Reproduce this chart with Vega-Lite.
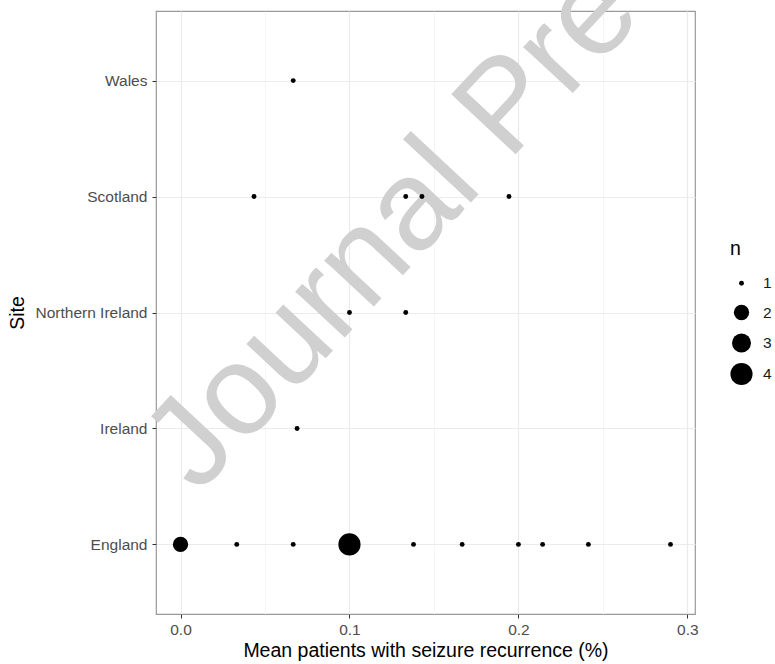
{
  "$schema": "https://vega.github.io/schema/vega-lite/v6.json",
  "width": 539,
  "height": 603,
  "autosize": {"type": "none"},
  "padding": {"left": 156, "top": 11, "right": 80, "bottom": 50},
  "background": "white",
  "config": {
    "font": "Liberation Sans",
    "view": {"stroke": "#999999", "strokeWidth": 1.2},
    "axis": {
      "domain": false,
      "grid": true,
      "labelFontSize": 15.5,
      "labelColor": "#4d4d4d",
      "titleFontSize": 19.5,
      "titleFontWeight": "normal",
      "titleColor": "black",
      "tickColor": "#333333",
      "tickSize": 4,
      "gridColor": "#ebebeb",
      "gridWidth": 1.2
    }
  },
  "layer": [
    {
      "data": {"values": [{"wx": 0.0779, "wy": 0.1973, "label": "Journal Pre-proof"}]},
      "mark": {"type": "text", "align": "left", "baseline": "alphabetic", "angle": 313, "fontSize": 128, "font": "Liberation Sans", "color": "#d0d0d0"},
      "encoding": {
        "x": {"field": "wx", "type": "quantitative", "scale": {"domain": [0, 1], "nice": false, "zero": false}, "axis": null},
        "y": {"field": "wy", "type": "quantitative", "scale": {"domain": [0, 1], "nice": false, "zero": false}, "axis": null},
        "text": {"field": "label"}
      }
    },
    {
      "data": {"values": [
        {"site": "England", "rate": 0.0, "n": 2},
        {"site": "England", "rate": 0.0333, "n": 1},
        {"site": "England", "rate": 0.0667, "n": 1},
        {"site": "England", "rate": 0.1, "n": 4},
        {"site": "England", "rate": 0.1379, "n": 1},
        {"site": "England", "rate": 0.1667, "n": 1},
        {"site": "England", "rate": 0.2, "n": 1},
        {"site": "England", "rate": 0.2143, "n": 1},
        {"site": "England", "rate": 0.2414, "n": 1},
        {"site": "England", "rate": 0.29, "n": 1},
        {"site": "Ireland", "rate": 0.069, "n": 1},
        {"site": "Northern Ireland", "rate": 0.1, "n": 1},
        {"site": "Northern Ireland", "rate": 0.1333, "n": 1},
        {"site": "Scotland", "rate": 0.0435, "n": 1},
        {"site": "Scotland", "rate": 0.1333, "n": 1},
        {"site": "Scotland", "rate": 0.1429, "n": 1},
        {"site": "Scotland", "rate": 0.1944, "n": 1},
        {"site": "Wales", "rate": 0.0667, "n": 1}
      ]},
      "mark": {"type": "point", "filled": true, "color": "black", "opacity": 1, "shape": "circle", "strokeWidth": 0},
      "encoding": {
        "x": {
          "field": "rate", "type": "quantitative",
          "scale": {"domain": [-0.0145, 0.3045], "nice": false, "zero": false},
          "axis": {
            "title": "Mean patients with seizure recurrence (%)",
            "grid": true,
            "values": [0, 0.05, 0.1, 0.15, 0.2, 0.25, 0.3],
            "format": ".1f",
            "labelOverlap": false,
            "labelPadding": 4,
            "titlePadding": 4,
            "labelExpr": "(datum.value == 0.05 || datum.value == 0.15 || datum.value == 0.25) ? '' : datum.label",
            "tickOpacity": {"condition": {"test": "datum.value == 0.05 || datum.value == 0.15 || datum.value == 0.25", "value": 0}, "value": 1},
            "gridWidth": {"condition": {"test": "datum.value == 0.05 || datum.value == 0.15 || datum.value == 0.25", "value": 0.7}, "value": 1.2},
            "gridColor": {"condition": {"test": "datum.value == 0.05 || datum.value == 0.15 || datum.value == 0.25", "value": "#f0f0f0"}, "value": "#ebebeb"}
          }
        },
        "y": {
          "field": "site", "type": "nominal",
          "sort": ["Wales", "Scotland", "Northern Ireland", "Ireland", "England"],
          "scale": {"type": "point", "padding": 0.6},
          "axis": {"title": "Site", "grid": true, "labelPadding": 5, "titlePadding": 7}
        },
        "size": {
          "field": "n", "type": "quantitative",
          "scale": {"domain": [1, 2, 3, 4], "range": [24, 236, 360, 491]},
          "legend": {
            "title": "n",
            "values": [1, 2, 3, 4],
            "format": "d",
            "orient": "none",
            "legendX": 574,
            "legendY": 229,
            "padding": 0,
            "gridAlign": "all",
            "titleFontSize": 19.5,
            "titleFontWeight": "normal",
            "titleColor": "black",
            "titlePadding": 16,
            "labelFontSize": 15.5,
            "labelColor": "#1a1a1a",
            "labelOffset": 10,
            "symbolType": "circle",
            "symbolFillColor": "black",
            "symbolStrokeColor": "black",
            "symbolStrokeWidth": 0,
            "symbolOpacity": 1,
            "rowPadding": 6
          }
        }
      }
    }
  ],
  "resolve": {"scale": {"x": "independent", "y": "independent"}}
}
